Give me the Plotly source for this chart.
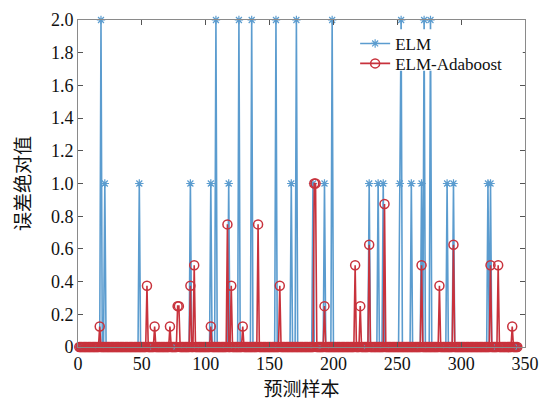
import plotly.graph_objects as go

N = 344
samples = list(range(1, N + 1))

# ELM error spikes (sample index -> absolute error); all other samples are 0
elm_idx = [18, 21, 48, 88, 104, 108, 118, 126, 136, 155, 167, 171, 184, 193, 199,
           228, 235, 239, 252, 253, 261, 269, 271, 276, 289, 294, 321, 323]
elm_val = [2.0, 1.0, 1.0, 1.0, 1.0, 2.0, 1.0, 2.0, 2.0, 2.0, 1.0, 2.0, 1.0, 1.0, 2.0,
           1.0, 1.0, 1.0, 1.0, 2.0, 1.0, 1.0, 2.0, 2.0, 1.0, 1.0, 1.0, 1.0]

# ELM-Adaboost error spikes
ada_idx = [17, 54, 60, 72, 78, 79, 88, 91, 104, 117, 120, 129, 141, 158, 185, 186,
           193, 217, 221, 228, 240, 269, 283, 294, 323, 329, 340]
ada_val = [0.125, 0.375, 0.125, 0.125, 0.25, 0.25, 0.375, 0.5, 0.125, 0.75, 0.375, 0.125,
           0.75, 0.375, 1.0, 1.0, 0.25, 0.5, 0.25, 0.625, 0.875, 0.5, 0.375, 0.625,
           0.5, 0.5, 0.125]

y_ticks = [0, 0.2, 0.4, 0.6, 0.8, 1.0, 1.2, 1.4, 1.6, 1.8, 2.0]
y_ticktext = ["0", "0.2", "0.4", "0.6", "0.8", "1.0", "1.2", "1.4", "1.6", "1.8", "2.0"]
x_ticks = [0, 50, 100, 150, 200, 250, 300, 350]

elm = [0.0] * N
for i, v in zip(elm_idx, elm_val):
    elm[i - 1] = v
ada = [0.0] * N
for i, v in zip(ada_idx, ada_val):
    ada[i - 1] = v

SERIF = "Liberation Serif"
CJK = "Noto Sans CJK SC"

fig = go.Figure()
fig.add_trace(go.Scatter(
    x=samples, y=elm, mode="lines+markers", name="ELM", legend="legend",
    line=dict(color="#5b9ccf", width=1.6),
    marker=dict(symbol="asterisk-open", size=7, color="#5b9ccf",
                line=dict(color="#5b9ccf", width=1.2)),
    cliponaxis=False,
))
fig.add_trace(go.Scatter(
    x=samples, y=ada, mode="lines+markers", name="ELM-Adaboost", legend="legend2",
    line=dict(color="#c8323c", width=1.6),
    marker=dict(symbol="circle-open", size=9, color="#c8323c",
                line=dict(color="#c8323c", width=1.5)),
    cliponaxis=False,
))

axis_common = dict(
    showline=True, linecolor="#8a8a8a", linewidth=1, mirror="ticks",
    ticks="inside", ticklen=5, tickcolor="#555555", showgrid=False, zeroline=False,
    automargin=False,
    tickfont=dict(family=SERIF, size=18, color="#111111"),
)
fig.update_xaxes(range=[0, 350], tickvals=x_ticks,
                 title=dict(text="预测样本", font=dict(family=CJK, size=19, color="#111111"),
                            standoff=11),
                 **axis_common)
fig.update_yaxes(range=[0, 2.0], tickvals=y_ticks, ticktext=y_ticktext,
                 title=dict(text="误差绝对值", font=dict(family=CJK, size=19, color="#111111"),
                            standoff=15),
                 **axis_common)

leg_common = dict(xanchor="left", yanchor="top", bgcolor="rgba(255,255,255,0)",
                  borderwidth=0, itemwidth=30,
                  font=dict(family=SERIF, size=17, color="#111111"))
fig.update_layout(
    template="none",
    width=547, height=401,
    margin=dict(l=78, r=22, t=20, b=54),
    plot_bgcolor="white", paper_bgcolor="white",
    showlegend=True,
    legend=dict(x=0.62, y=0.982, **leg_common),
    legend2=dict(x=0.62, y=0.921, **leg_common),
    shapes=[dict(type="rect", xref="paper", yref="paper", x0=0.62, x1=0.995,
                 y0=0.845, y1=0.972, fillcolor="white", line=dict(width=0), layer="above")],
)

fig.write_html("out.html")
